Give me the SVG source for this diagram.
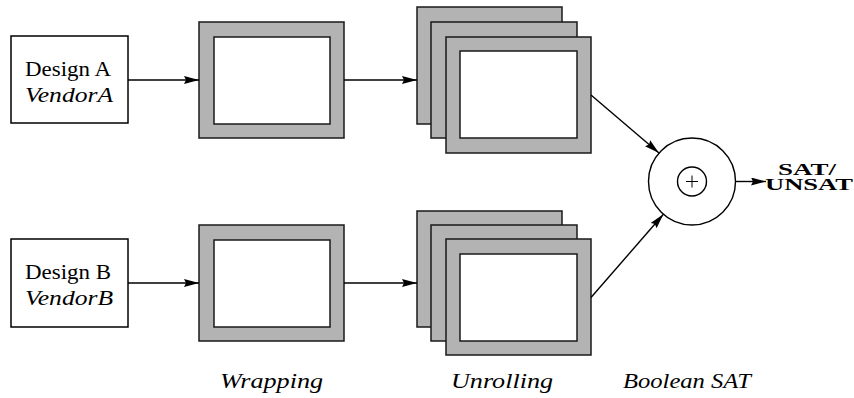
<svg xmlns="http://www.w3.org/2000/svg" width="854" height="398" viewBox="0 0 854 398">
  <style>
    .box { fill: #ffffff; stroke: #000000; stroke-width: 1.5; }
    .frame { fill: #b3b3b3; stroke: #1a1a1a; stroke-width: 1.5; }
    .hole { fill: #ffffff; stroke: #1a1a1a; stroke-width: 1.5; }
    .wire { fill: none; stroke: #000000; stroke-width: 1.4; }
    .ring { fill: #ffffff; stroke: #000000; stroke-width: 1.4; }
  </style>
  <defs>
    <marker id="arrow" viewBox="0 0 15 8" refX="15" refY="4" markerWidth="15" markerHeight="8" markerUnits="userSpaceOnUse" orient="auto">
      <path d="M0,0 L15,4 L0,8 L2,4 z" fill="#000000"/>
    </marker>
  </defs>

  <!-- inputs -->
  <g id="design-a" font-family="Liberation Serif, Times New Roman, DejaVu Serif, serif" font-size="20">
    <rect class="box" x="11" y="36" width="117" height="87"/>
    <text x="25" y="76" textLength="86" lengthAdjust="spacingAndGlyphs">Design A</text>
    <text x="25" y="102" font-style="italic" textLength="88" lengthAdjust="spacingAndGlyphs">VendorA</text>
  </g>
  <g id="design-b" font-family="Liberation Serif, Times New Roman, DejaVu Serif, serif" font-size="20">
    <rect class="box" x="11" y="239" width="117" height="88"/>
    <text x="25" y="279" textLength="86" lengthAdjust="spacingAndGlyphs">Design B</text>
    <text x="25" y="305" font-style="italic" textLength="88" lengthAdjust="spacingAndGlyphs">VendorB</text>
  </g>

  <!-- wrapping stage -->
  <g id="wrap-a">
    <rect class="frame" x="199" y="22" width="145" height="116"/>
    <rect class="hole" x="214" y="37" width="116" height="87"/>
  </g>
  <g id="wrap-b">
    <rect class="frame" x="199" y="225" width="145" height="116"/>
    <rect class="hole" x="214" y="240" width="116" height="87"/>
  </g>

  <!-- unrolling stage: three stacked copies -->
  <g id="unroll-a">
    <rect class="frame" x="417" y="7" width="145" height="117"/>
    <rect class="frame" x="431" y="22" width="146" height="116"/>
    <rect class="frame" x="446" y="37" width="145" height="116"/>
    <rect class="hole" x="460" y="51" width="117" height="87"/>
  </g>
  <g id="unroll-b">
    <rect class="frame" x="417" y="211" width="145" height="116"/>
    <rect class="frame" x="431" y="225" width="146" height="116"/>
    <rect class="frame" x="446" y="239" width="145" height="116"/>
    <rect class="hole" x="460" y="254" width="117" height="87"/>
  </g>

  <!-- SAT check -->
  <g id="xor">
    <circle class="ring" cx="692" cy="181.5" r="43.5"/>
    <circle class="ring" cx="692" cy="181.5" r="14.5" stroke-width="1.2"/>
    <path d="M686,181.5 H698 M692,175.5 V187.5" stroke="#000000" stroke-width="1"/>
  </g>

  <g id="result" font-family="Liberation Serif, Times New Roman, DejaVu Serif, serif" font-size="17" font-weight="bold">
    <text x="778" y="175" textLength="58" lengthAdjust="spacingAndGlyphs">SAT/</text>
    <text x="765" y="190" textLength="88" lengthAdjust="spacingAndGlyphs">UNSAT</text>
  </g>

  <!-- stage captions -->
  <g id="captions" font-family="Liberation Serif, Times New Roman, DejaVu Serif, serif" font-size="20" font-style="italic">
    <text x="220" y="388" textLength="103" lengthAdjust="spacingAndGlyphs">Wrapping</text>
    <text x="451" y="388" textLength="102" lengthAdjust="spacingAndGlyphs">Unrolling</text>
    <text x="623" y="388" textLength="128" lengthAdjust="spacingAndGlyphs">Boolean SAT</text>
  </g>

  <!-- connectors -->
  <g id="connectors">
    <line class="wire" x1="128" y1="80" x2="199" y2="80" marker-end="url(#arrow)"/>
    <line class="wire" x1="128" y1="283" x2="199" y2="283" marker-end="url(#arrow)"/>
    <line class="wire" x1="344" y1="80" x2="417" y2="80" marker-end="url(#arrow)"/>
    <line class="wire" x1="344" y1="283" x2="417" y2="283" marker-end="url(#arrow)"/>
    <line class="wire" x1="591" y1="95" x2="659" y2="153" marker-end="url(#arrow)"/>
    <line class="wire" x1="591" y1="297.5" x2="663.4" y2="214.3" marker-end="url(#arrow)"/>
    <line class="wire" x1="735.5" y1="181.5" x2="766" y2="181.5" marker-end="url(#arrow)"/>
  </g>
</svg>
